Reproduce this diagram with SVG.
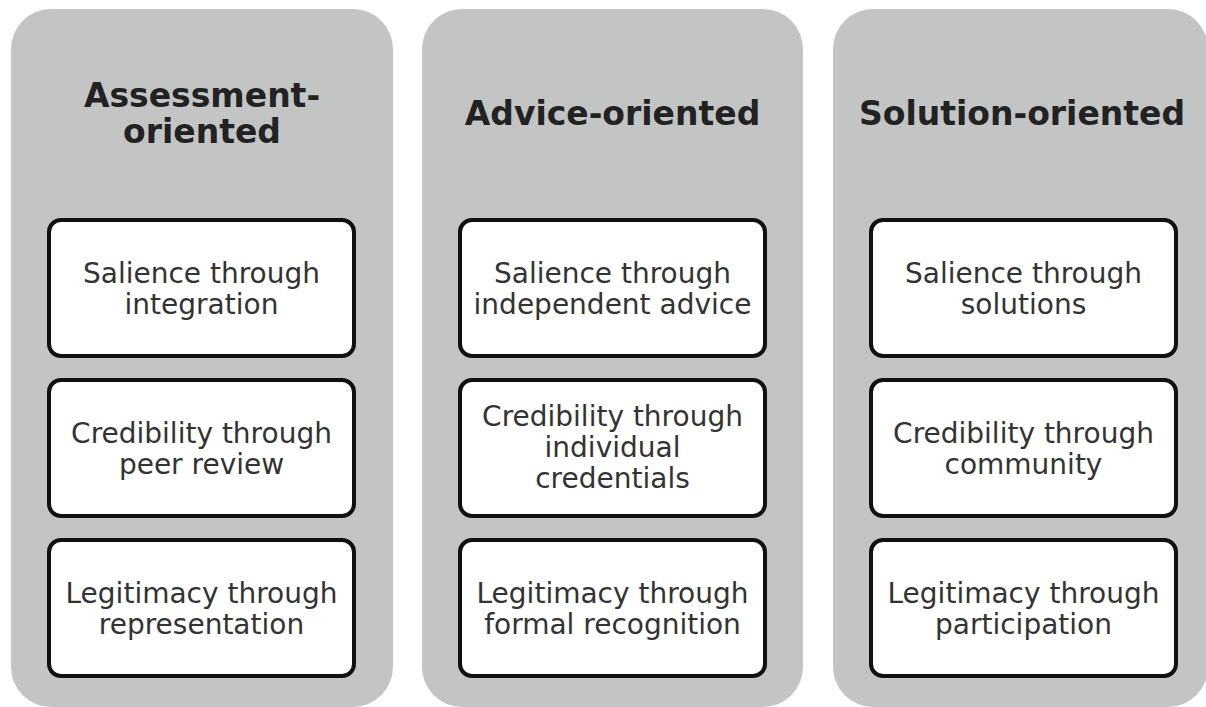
<svg xmlns="http://www.w3.org/2000/svg" width="1206" height="707" viewBox="0 0 1206 707">
<style>
.panel{fill:#c3c5c4;}
.box{fill:#ffffff;stroke:#111111;stroke-width:4;}
.title{font-family:"DejaVu Sans",Verdana,sans-serif;font-weight:bold;font-size:33px;fill:#222222;text-anchor:middle;}
.lbl{font-family:"DejaVu Sans",Verdana,sans-serif;font-size:28px;fill:#333333;text-anchor:middle;}
</style>
<rect width="1206" height="707" fill="#ffffff"/>
<g id="panel-assessment">
<rect class="panel" x="11" y="9" width="382" height="698" rx="40"/>
<text class="title" x="202" y="107">Assessment-</text>
<text class="title" x="202" y="143">oriented</text>
</g>
<g id="panel-advice">
<rect class="panel" x="422" y="9" width="381" height="698" rx="40"/>
<text class="title" x="612.5" y="125">Advice-oriented</text>
</g>
<g id="panel-solution">
<rect class="panel" x="833" y="9" width="375" height="698" rx="40"/>
<text class="title" x="1022" y="125">Solution-oriented</text>
</g>
<g id="a1"><rect class="box" x="49" y="220" width="305" height="136" rx="12"/>
<text class="lbl" x="201.5" y="283">Salience through</text><text class="lbl" x="201.5" y="314">integration</text></g>
<g id="a2"><rect class="box" x="49" y="380" width="305" height="136" rx="12"/>
<text class="lbl" x="201.5" y="443">Credibility through</text><text class="lbl" x="201.5" y="474">peer review</text></g>
<g id="a3"><rect class="box" x="49" y="540" width="305" height="136" rx="12"/>
<text class="lbl" x="201.5" y="603">Legitimacy through</text><text class="lbl" x="201.5" y="634">representation</text></g>
<g id="b1"><rect class="box" x="460" y="220" width="305" height="136" rx="12"/>
<text class="lbl" x="612.5" y="283">Salience through</text><text class="lbl" x="612.5" y="314">independent advice</text></g>
<g id="b2"><rect class="box" x="460" y="380" width="305" height="136" rx="12"/>
<text class="lbl" x="612.5" y="426">Credibility through</text><text class="lbl" x="612.5" y="457">individual</text><text class="lbl" x="612.5" y="488">credentials</text></g>
<g id="b3"><rect class="box" x="460" y="540" width="305" height="136" rx="12"/>
<text class="lbl" x="612.5" y="603">Legitimacy through</text><text class="lbl" x="612.5" y="634">formal recognition</text></g>
<g id="c1"><rect class="box" x="871" y="220" width="305" height="136" rx="12"/>
<text class="lbl" x="1023.5" y="283">Salience through</text><text class="lbl" x="1023.5" y="314">solutions</text></g>
<g id="c2"><rect class="box" x="871" y="380" width="305" height="136" rx="12"/>
<text class="lbl" x="1023.5" y="443">Credibility through</text><text class="lbl" x="1023.5" y="474">community</text></g>
<g id="c3"><rect class="box" x="871" y="540" width="305" height="136" rx="12"/>
<text class="lbl" x="1023.5" y="603">Legitimacy through</text><text class="lbl" x="1023.5" y="634">participation</text></g>
<g id="connectors"></g>
</svg>
